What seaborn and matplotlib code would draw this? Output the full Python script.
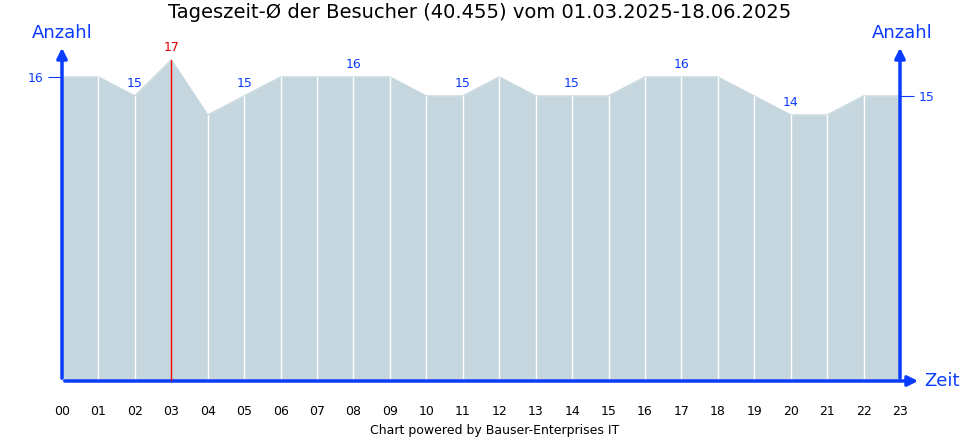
import numpy as np
import pandas as pd
import seaborn as sns
import matplotlib.pyplot as plt

hours = ['00', '01', '02', '03', '04', '05', '06', '07', '08', '09', '10', '11',
         '12', '13', '14', '15', '16', '17', '18', '19', '20', '21', '22', '23']
visitors = [16, 16, 15, 16.9, 14, 15, 16, 16, 16, 16, 15, 15,
            16, 15, 15, 15, 16, 16, 16, 15, 14, 14, 15, 15]
label_at = [2, 3, 5, 8, 11, 14, 17, 20]
label_txt = ['15', '17', '15', '16', '15', '15', '16', '14']

df = pd.DataFrame({'pos': np.arange(len(hours)), 'val': visitors})
blue = '#0a3cff'
fill = '#c5d6df'

sns.set_style('white')
plt.rcParams['font.family'] = ['DejaVu Sans']
fig = plt.figure(figsize=(9.7, 4.4), dpi=100)
ax = fig.add_axes([62 / 970, 59 / 440, 838 / 970, 336 / 440])
ymax = 336 / 19.0

ax.fill_between(df['pos'], df['val'], color=fill, lw=0)
sns.lineplot(data=df, x='pos', y='val', ax=ax, color=fill, lw=1)
for p, v in zip(df['pos'], df['val']):
    if p == 3:
        ax.plot([p, p], [0, v], color='#ff0000', lw=1, zorder=5)
    elif 0 < p < 23:
        ax.plot([p, p], [0, v], color='white', lw=1)
for i, t in zip(label_at, label_txt):
    c = '#dd0000' if i == 3 else blue
    ax.text(i, visitors[i] + 0.3, t, ha='center', va='bottom', fontsize=9, color=c)

ax.set_xlim(0, 23)
ax.set_ylim(0, ymax)
for s in ax.spines.values():
    s.set_visible(False)
ax.set_xticks(df['pos'])
ax.set_xticklabels(hours, fontsize=9, color='black')
ax.tick_params(axis='x', length=5, color='black', pad=12)
ax.set_yticks([16])
ax.set_yticklabels(['16'], fontsize=9, color=blue)
ax.tick_params(axis='y', length=10, color=blue)
ax.set_xlabel('')
ax.set_ylabel('')
ax2 = ax.twinx()
ax2.set_ylim(0, ymax)
for s in ax2.spines.values():
    s.set_visible(False)
ax2.set_yticks([15])
ax2.set_yticklabels(['15'], fontsize=9, color=blue)
ax2.tick_params(axis='y', length=10, color=blue)

arrow = dict(arrowstyle='-|>,head_width=0.3,head_length=0.6', color=blue, lw=2.5)
ax.annotate('', xy=(0, 1.0), xytext=(0, 0), xycoords='axes fraction', arrowprops=arrow)
ax.annotate('', xy=(1, 1.0), xytext=(1, 0), xycoords='axes fraction', arrowprops=arrow)
ax.annotate('', xy=(1.025, 0), xytext=(0, 0), xycoords='axes fraction', arrowprops=arrow)

fig.text(62 / 970, 1 - 33 / 440, 'Anzahl', ha='center', va='center', fontsize=13, color=blue)
fig.text(902 / 970, 1 - 33 / 440, 'Anzahl', ha='center', va='center', fontsize=13, color=blue)
fig.text(924 / 970, 1 - 381 / 440, 'Zeit', ha='left', va='center', fontsize=13, color=blue)
fig.text(480 / 970, 1 - 13 / 440, 'Tageszeit-Ø der Besucher (40.455) vom 01.03.2025-18.06.2025',
         ha='center', va='center', fontsize=14, color='black')
fig.text(495 / 970, 1 - 430 / 440, 'Chart powered by Bauser-Enterprises IT',
         ha='center', va='center', fontsize=9, color='black')

fig.savefig('out.png', dpi=100)
